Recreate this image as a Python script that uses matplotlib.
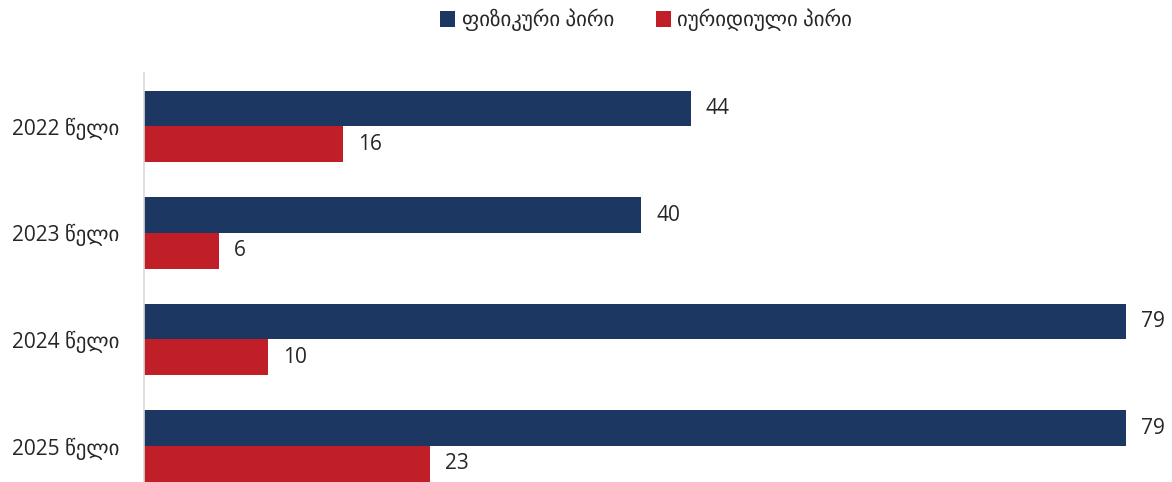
import matplotlib.pyplot as plt
import numpy as np

years = ['2022 წელი', '2023 წელი', '2024 წელი', '2025 წელი']
physical = [44, 40, 79, 79]
legal = [16, 6, 10, 23]
series_names = ['ფიზიკური პირი', 'იურიდიული პირი']
colors = ['#1d3763', '#c01f27']

plt.rcParams['font.family'] = ['Open Sans', 'DejaVu Sans']

fig = plt.figure(figsize=(11.72, 4.82), dpi=100)
ax = fig.add_axes([144 / 1172, 0, 1 - 144 / 1172, (482 - 73) / 482])

y = np.arange(len(years))
h = 0.335
b1 = ax.barh(y - h / 2, physical, height=h, color=colors[0], label=series_names[0])
b2 = ax.barh(y + h / 2, legal, height=h, color=colors[1], label=series_names[1])

for bars, vals in ((b1, physical), (b2, legal)):
    for bar, v in zip(bars, vals):
        ax.text(bar.get_width() + 1.2, bar.get_y() + bar.get_height() / 2, str(v),
                va='center', ha='left', fontsize=15, color='#262626', clip_on=False)

ax.set_xlim(0, (1172 - 144) / 12.43)
ax.set_ylim(3.337, -0.5)
ax.set_yticks(y)
ax.set_yticklabels(years, fontsize=15, color='#262626')
ax.tick_params(axis='y', length=0, pad=18)
ax.set_xticks([])
for s in ['top', 'right', 'bottom']:
    ax.spines[s].set_visible(False)
ax.spines['left'].set_color('#d9d9d9')
ax.spines['left'].set_linewidth(1.2)

fig.legend(handles=[b1, b2], labels=series_names, loc='center', bbox_to_anchor=(646 / 1172, 1 - 20 / 482),
           ncol=2, frameon=False, fontsize=15, handlelength=0.75, handleheight=0.75,
           handletextpad=0.3, columnspacing=2.0, labelcolor='#262626')

fig.savefig('out.png', dpi=100)
